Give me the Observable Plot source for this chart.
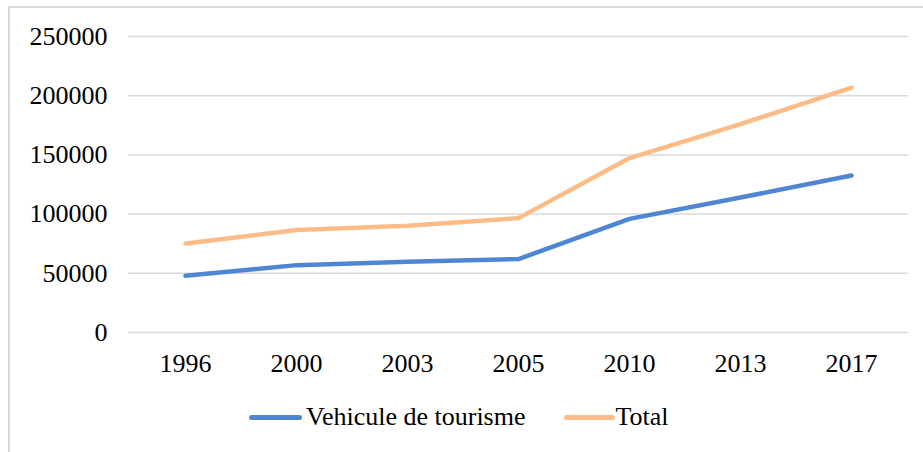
<!DOCTYPE html>
<html>
<head>
<meta charset="utf-8">
<script src="https://cdn.jsdelivr.net/npm/d3@7"></script>
<script src="https://cdn.jsdelivr.net/npm/@observablehq/plot@0.6"></script>
<style>
  html, body { margin: 0; padding: 0; background: #fff; }
  #wrap { position: relative; width: 923px; height: 452px; overflow: hidden; font-family: "Liberation Serif", "Times New Roman", serif; }
  #frame { position: absolute; left: 8px; top: 6px; width: 940px; height: 470px; border: 2px solid #d9d9d9; box-sizing: border-box; }
  #chart { position: absolute; left: 0; top: 0; }
  #legend { position: absolute; left: 249px; top: 400px; height: 34px; display: flex; justify-content: flex-start; align-items: center; font-size: 26px; color: #000; white-space: nowrap; }
  .item { display: flex; align-items: center; }
  .sw { width: 53px; height: 5px; border-radius: 3px; margin-right: 4px; }
</style>
</head>
<body>
<div id="wrap">
  <div id="frame"></div>
  <div id="chart"></div>
  <div id="legend"></div>
</div>
<script>
const years = ["1996", "2000", "2003", "2005", "2010", "2013", "2017"];
const vehicule = [47900, 56900, 59700, 62000, 96000, 114000, 132600];
const total = [75200, 86500, 90100, 96600, 147300, 176000, 206900];
const yTicks = [0, 50000, 100000, 150000, 200000, 250000];
const seriesNames = ["Vehicule de tourisme", "Total"];
const seriesColors = ["#4f86d4", "#fbbc88"];

const rows = [];
years.forEach((y, i) => {
  rows.push({year: y, value: vehicule[i], series: seriesNames[0]});
  rows.push({year: y, value: total[i], series: seriesNames[1]});
});

const chart = Plot.plot({
  width: 923,
  height: 385,
  marginLeft: 128,
  marginRight: 15,
  marginTop: 36,
  marginBottom: 53,
  style: {fontFamily: "'Liberation Serif', 'Times New Roman', serif", fontSize: "26px", color: "#000", background: "transparent", overflow: "visible"},
  x: {type: "point", domain: years, padding: 0.5, label: null},
  y: {domain: [0, 250000], label: null},
  color: {domain: seriesNames, range: seriesColors},
  marks: [
    Plot.gridY(yTicks, {stroke: "#d9d9d9", strokeOpacity: 1, strokeWidth: 1.5}),
    Plot.axisY(yTicks, {tickSize: 0, tickPadding: 21, tickFormat: d => String(d), label: null, fontSize: 26}),
    Plot.axisX({tickSize: 0, tickPadding: 21, label: null, fontSize: 26}),
    Plot.line(rows, {x: "year", y: "value", z: "series", stroke: "series", strokeWidth: 4.5, strokeLinecap: "round", strokeLinejoin: "round"})
  ]
});
document.getElementById("chart").appendChild(chart);

const legend = document.getElementById("legend");
seriesNames.forEach((name, i) => {
  const item = document.createElement("div");
  item.className = "item";
  const sw = document.createElement("div");
  sw.className = "sw";
  sw.style.background = seriesColors[i];
  if (i > 0) { item.style.marginLeft = "38px"; sw.style.marginRight = "1px"; sw.style.width = "51px"; }
  const label = document.createElement("span");
  label.textContent = name;
  item.appendChild(sw);
  item.appendChild(label);
  legend.appendChild(item);
});
</script>
</body>
</html>
